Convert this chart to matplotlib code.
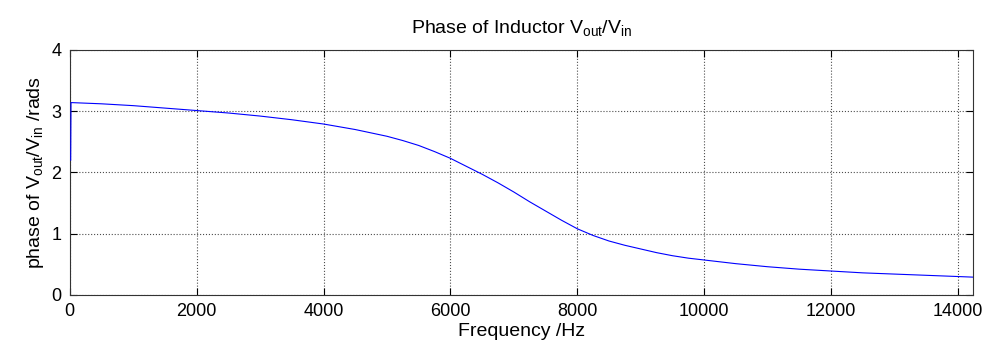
import matplotlib
matplotlib.use("Agg")
import matplotlib.pyplot as plt

plt.rcParams['font.family'] = ['Liberation Sans', 'DejaVu Sans']
plt.rcParams['mathtext.fontset'] = 'custom'
plt.rcParams['mathtext.rm'] = 'Liberation Sans'

freq_hz = [15, 20, 500, 1000, 1500, 2000, 2500, 3000, 3500, 4000, 4500,
           5000, 5250, 5500, 5750, 6000, 6250, 6500, 6750, 7000, 7250, 7500, 7750,
           8000, 8250, 8500, 8750, 9000, 9250, 9500, 9750, 10000, 10500, 11000,
           11500, 12000, 12500, 13000, 13500, 14000, 14240]
phase_rad = [2.20, 3.14, 3.12, 3.09, 3.05, 3.01, 2.97, 2.92, 2.86, 2.79, 2.70,
             2.59, 2.52, 2.44, 2.34, 2.23, 2.10, 1.97, 1.83, 1.68, 1.52, 1.37, 1.22,
             1.08, 0.97, 0.88, 0.81, 0.75, 0.69, 0.64, 0.60, 0.57, 0.51, 0.46,
             0.42, 0.39, 0.36, 0.34, 0.32, 0.30, 0.29]
x_ticks = [0, 2000, 4000, 6000, 8000, 10000, 12000, 14000]
y_ticks = [0, 1, 2, 3, 4]

fig = plt.figure(figsize=(9.92, 3.49), dpi=100)
ax = fig.add_axes([0.0703, 0.155, 0.9107, 0.702])
ax.plot(freq_hz, phase_rad, color=(0, 0, 1), linewidth=0.8, zorder=5)
ax.set_xlim(0, 14240)
ax.set_ylim(0, 4)
ax.set_xticks(x_ticks)
ax.set_yticks(y_ticks)
ax.tick_params(direction='in', top=True, right=True, labelsize=13, length=5, width=0.8)
ax.tick_params(axis='y', pad=6)
ax.tick_params(axis='x', pad=6)
ax.grid(True, linestyle=':', color='0.3', linewidth=0.8)
for s in ax.spines.values():
    s.set_linewidth(0.8)
    s.set_color('0.2')
ax.set_xlabel('Frequency /Hz', fontsize=14, labelpad=2)
ax.set_ylabel(r'phase of V$_\mathregular{out}$/V$_\mathregular{in}$ /rads', fontsize=14, labelpad=4)
ax.set_title(r'Phase of Inductor V$_\mathregular{out}$/V$_\mathregular{in}$', fontsize=14, pad=12)
fig.savefig('out.png', dpi=100)
